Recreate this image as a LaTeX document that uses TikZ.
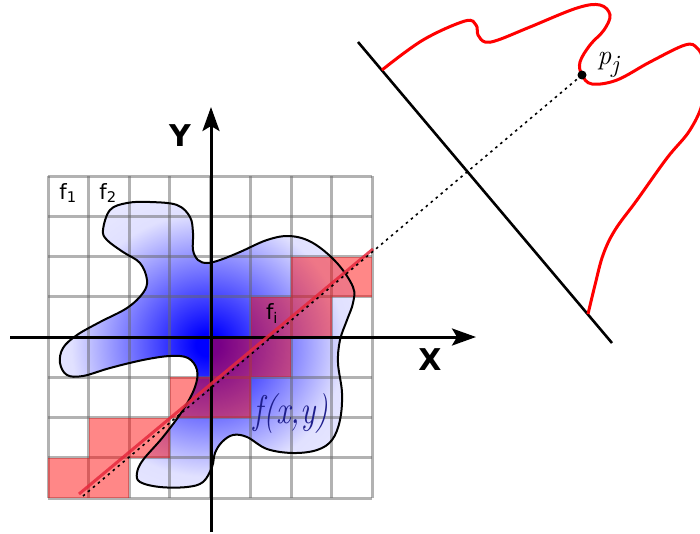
\documentclass[tikz,border=0pt]{standalone}
\usepackage{fontspec}
\newfontfamily\dejavu{DejaVu Sans}
\usetikzlibrary{arrows.meta}
\pgfdeclareradialshading{blobshade}{\pgfpoint{0bp}{0bp}}{color(0bp)=(blue); color(2bp)=(blue); color(23bp)=(blue!12); color(50bp)=(white)}
\definecolor{navytxt}{RGB}{30,30,140}
\definecolor{linered}{RGB}{230,40,60}
\tikzset{
  gridline/.style={draw=black!60, opacity=0.5, line width=3pt},
  redcell/.style={fill=red, fill opacity=0.47},
  axis/.style={line width=3pt, -{Stealth[length=24pt,width=17pt,inset=5pt]}},
  outline/.style={line width=2pt, black},
  axlabel/.style={font=\dejavu\bfseries\fontsize{30}{30}\selectfont, inner sep=0pt},
  celllabel/.style={font=\dejavu\fontsize{21}{21}\selectfont, inner sep=0pt},
  proj/.style={line width=1.6pt, dash pattern=on 2.5pt off 4pt},
}
\begin{document}
\begin{tikzpicture}[x=1pt,y=-1pt]
\useasboundingbox (0,0) rectangle (700,533);
\fill[white] (0,0) rectangle (700,533);
% blob
\def\blobpath{plot[smooth cycle, tension=0.6] coordinates {
 (103,230) (110,210) (127,203) (150,202) (177,205) (190,217) (193,233) (193,250) (198,260) (207,263)
 (220,260) (240,252) (267,240) (290,236) (313,243) (337,263) (353,287) (353,303) (347,320) (340,340)
 (338,363) (342,393) (340,420) (332,440) (317,450) (293,453) (267,449) (247,437) (233,435) (222,442)
 (215,453) (212,467) (203,482) (187,487) (160,487) (140,482) (137,473) (143,460) (163,437) (183,410)
 (195,387) (197,370) (188,358) (170,356) (143,360) (110,368) (83,376) (67,375) (60,363) (63,348)
 (77,335) (100,322) (127,308) (143,293) (147,280) (140,263) (123,252) (107,240)}}
\shade[shading=blobshade] \blobpath;
% grid
\foreach \i in {0,...,8}{
  \draw[gridline] ({48+\i*40.5},176) -- ({48+\i*40.5},498);
  \draw[gridline] (48,{176+\i*40.25}) -- (372,{176+\i*40.25});
}
% red cells
\foreach \c/\r in {6/2,7/2,5/3,6/3,4/4,5/4,3/5,4/5,1/6,2/6,0/7,1/7}{
  \fill[redcell] ({48+\c*40.5},{176+\r*40.25}) rectangle ({48+(\c+1)*40.5},{176+(\r+1)*40.25});
}
\draw[outline] \blobpath;
% axes
\coordinate (xs) at (10,337);
\coordinate (xe) at (476,337);
\coordinate (ys) at (211,532);
\coordinate (ye) at (211,107);
\draw[axis] (xs) -- (xe);
\draw[axis] (ys) -- (ye);
\node[axlabel] (Y) at (180,136) {Y};
\node[axlabel] (X) at (430,360) {X};
% projection plane and profile
\coordinate (pa) at (358,42);
\coordinate (pb) at (612,343);
\draw[line width=2.6pt] (pa) -- (pb);
\draw[red, line width=3pt] plot[smooth, tension=0.6] coordinates {
 (382,70) (423,40) (465,21) (476,25) (478,35) (485,42) (498,40) (530,27) (577,8) (600,5) (610,15) (604,30)
 (590,45) (580,62) (582,75) (592,84) (617,80) (650,62) (685,45) (697,48) (703,62) (703,100) (690,130)
 (667,158) (637,200) (615,230) (603,255) (595,285) (588,314)};
% ray
\node[circle, fill=black, inner sep=0pt, minimum size=9pt] (pj) at (582,75) {};
\node[font=\itshape\fontsize{28}{28}\selectfont, inner sep=0pt] (pjl) at (608,65) {p\raisebox{-0.3em}{\fontsize{25}{25}\selectfont j}};
\coordinate (rs) at (83,496);
\coordinate (rls) at (79,494);
\coordinate (rle) at (373,249);
\draw[linered, opacity=0.85, line width=3pt] (rls) -- (rle);
\draw[proj] (rs) -- (pj.center);
% labels
\node[celllabel] (f1) at (68,193) {f\textsubscript{1}};
\node[celllabel] (f2) at (108,193) {f\textsubscript{2}};
\node[celllabel] (fi) at (272,314) {f\textsubscript{i}};
\node[text=navytxt, xscale=0.8, inner sep=0pt, font=\itshape\fontsize{40}{40}\selectfont] (fxy) at (291,414) {f(x,y)};
\end{tikzpicture}
\end{document}
